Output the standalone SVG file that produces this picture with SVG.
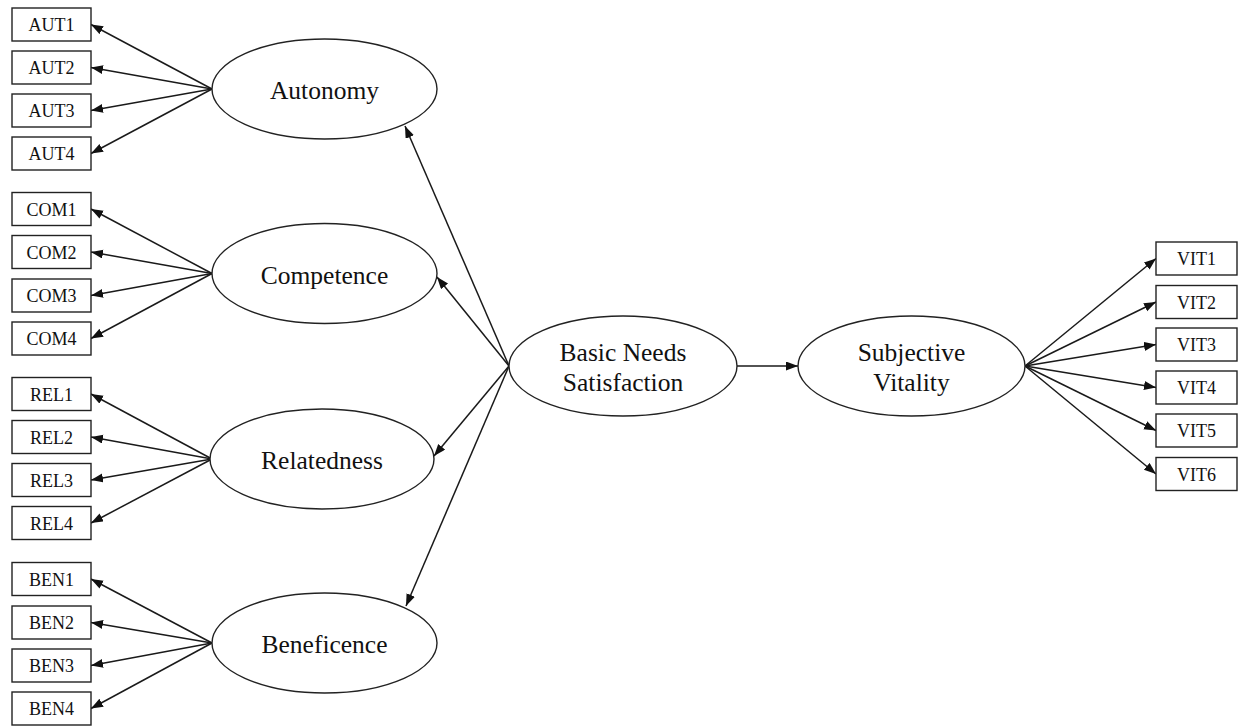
<svg xmlns="http://www.w3.org/2000/svg" width="1238" height="726" viewBox="0 0 1238 726">
<defs>
<style>
.box{fill:#fff;stroke:#222;stroke-width:1.4}
.ell{fill:#fff;stroke:#222;stroke-width:1.4}
.edge{stroke:#1a1a1a;stroke-width:1.5;fill:none;marker-end:url(#arr)}
.bt{font-family:"Liberation Serif","Times New Roman",serif;font-size:18px;fill:#111;text-anchor:middle}
.et{font-family:"Liberation Serif","Times New Roman",serif;font-size:25.5px;fill:#111;text-anchor:middle}
</style>
<marker id="arr" markerUnits="userSpaceOnUse" markerWidth="13" markerHeight="10" refX="12" refY="4.5" orient="auto">
<path d="M0,0 L12,4.5 L0,9 z" fill="#111"/>
</marker>
</defs>
<rect width="1238" height="726" fill="#fff"/>
<g id="connectors">
<line class="edge" x1="212" y1="89" x2="91" y2="24.5"/>
<line class="edge" x1="212" y1="89" x2="91" y2="67.5"/>
<line class="edge" x1="212" y1="89" x2="91" y2="110.5"/>
<line class="edge" x1="212" y1="89" x2="91" y2="153.5"/>
<line class="edge" x1="212" y1="273.5" x2="91" y2="209"/>
<line class="edge" x1="212" y1="273.5" x2="91" y2="252"/>
<line class="edge" x1="212" y1="273.5" x2="91" y2="295.5"/>
<line class="edge" x1="212" y1="273.5" x2="91" y2="338.5"/>
<line class="edge" x1="212" y1="459" x2="91" y2="394"/>
<line class="edge" x1="212" y1="459" x2="91" y2="437"/>
<line class="edge" x1="212" y1="459" x2="91" y2="480"/>
<line class="edge" x1="212" y1="459" x2="91" y2="523"/>
<line class="edge" x1="212" y1="643" x2="91" y2="579"/>
<line class="edge" x1="212" y1="643" x2="91" y2="622.5"/>
<line class="edge" x1="212" y1="643" x2="91" y2="665.5"/>
<line class="edge" x1="212" y1="643" x2="91" y2="708.5"/>
<line class="edge" x1="509" y1="366" x2="405" y2="126"/>
<line class="edge" x1="509" y1="366" x2="437" y2="277"/>
<line class="edge" x1="509" y1="366" x2="434" y2="456"/>
<line class="edge" x1="509" y1="366" x2="406" y2="606"/>
<line class="edge" x1="737" y1="366" x2="798" y2="366"/>
<line class="edge" x1="1025" y1="366" x2="1156" y2="258.5"/>
<line class="edge" x1="1025" y1="366" x2="1156" y2="302"/>
<line class="edge" x1="1025" y1="366" x2="1156" y2="344.5"/>
<line class="edge" x1="1025" y1="366" x2="1156" y2="387.5"/>
<line class="edge" x1="1025" y1="366" x2="1156" y2="430.5"/>
<line class="edge" x1="1025" y1="366" x2="1156" y2="474"/>
</g>
<g id="AUT1"><rect class="box" x="12" y="8" width="79" height="33"/><text class="bt" x="51.5" y="31">AUT1</text></g>
<g id="AUT2"><rect class="box" x="12" y="51" width="79" height="33"/><text class="bt" x="51.5" y="74">AUT2</text></g>
<g id="AUT3"><rect class="box" x="12" y="94" width="79" height="33"/><text class="bt" x="51.5" y="117">AUT3</text></g>
<g id="AUT4"><rect class="box" x="12" y="137" width="79" height="33"/><text class="bt" x="51.5" y="160">AUT4</text></g>
<g id="COM1"><rect class="box" x="12" y="192.5" width="79" height="33"/><text class="bt" x="51.5" y="215.5">COM1</text></g>
<g id="COM2"><rect class="box" x="12" y="235.5" width="79" height="33"/><text class="bt" x="51.5" y="258.5">COM2</text></g>
<g id="COM3"><rect class="box" x="12" y="279" width="79" height="33"/><text class="bt" x="51.5" y="302">COM3</text></g>
<g id="COM4"><rect class="box" x="12" y="322" width="79" height="33"/><text class="bt" x="51.5" y="345">COM4</text></g>
<g id="REL1"><rect class="box" x="12" y="377.5" width="79" height="33"/><text class="bt" x="51.5" y="400.5">REL1</text></g>
<g id="REL2"><rect class="box" x="12" y="420.5" width="79" height="33"/><text class="bt" x="51.5" y="443.5">REL2</text></g>
<g id="REL3"><rect class="box" x="12" y="463.5" width="79" height="33"/><text class="bt" x="51.5" y="486.5">REL3</text></g>
<g id="REL4"><rect class="box" x="12" y="506.5" width="79" height="33"/><text class="bt" x="51.5" y="529.5">REL4</text></g>
<g id="BEN1"><rect class="box" x="12" y="562.5" width="79" height="33"/><text class="bt" x="51.5" y="585.5">BEN1</text></g>
<g id="BEN2"><rect class="box" x="12" y="606" width="79" height="33"/><text class="bt" x="51.5" y="629">BEN2</text></g>
<g id="BEN3"><rect class="box" x="12" y="649" width="79" height="33"/><text class="bt" x="51.5" y="672">BEN3</text></g>
<g id="BEN4"><rect class="box" x="12" y="692" width="79" height="33"/><text class="bt" x="51.5" y="715">BEN4</text></g>
<g id="Autonomy"><ellipse class="ell" cx="324.5" cy="89" rx="112.5" ry="50"/><text class="et" x="324.5" y="99">Autonomy</text></g>
<g id="Competence"><ellipse class="ell" cx="324.5" cy="273.5" rx="112.5" ry="50"/><text class="et" x="324.5" y="283.5">Competence</text></g>
<g id="Relatedness"><ellipse class="ell" cx="322" cy="459" rx="112" ry="50"/><text class="et" x="322" y="469">Relatedness</text></g>
<g id="Beneficence"><ellipse class="ell" cx="324.5" cy="643" rx="112.5" ry="50"/><text class="et" x="324.5" y="653">Beneficence</text></g>
<g id="BasicNeeds"><ellipse class="ell" cx="623" cy="366" rx="114" ry="50"/><text class="et" x="623" y="361">Basic Needs</text><text class="et" x="623" y="391">Satisfaction</text></g>
<g id="SubjectiveVitality"><ellipse class="ell" cx="911.5" cy="366" rx="113.5" ry="50"/><text class="et" x="911.5" y="361">Subjective</text><text class="et" x="911.5" y="391">Vitality</text></g>
<g id="VIT1"><rect class="box" x="1156" y="242" width="81" height="33"/><text class="bt" x="1196.5" y="265">VIT1</text></g>
<g id="VIT2"><rect class="box" x="1156" y="285.5" width="81" height="33"/><text class="bt" x="1196.5" y="308.5">VIT2</text></g>
<g id="VIT3"><rect class="box" x="1156" y="328" width="81" height="33"/><text class="bt" x="1196.5" y="351">VIT3</text></g>
<g id="VIT4"><rect class="box" x="1156" y="371" width="81" height="33"/><text class="bt" x="1196.5" y="394">VIT4</text></g>
<g id="VIT5"><rect class="box" x="1156" y="414" width="81" height="33"/><text class="bt" x="1196.5" y="437">VIT5</text></g>
<g id="VIT6"><rect class="box" x="1156" y="457.5" width="81" height="33"/><text class="bt" x="1196.5" y="480.5">VIT6</text></g>
</svg>
